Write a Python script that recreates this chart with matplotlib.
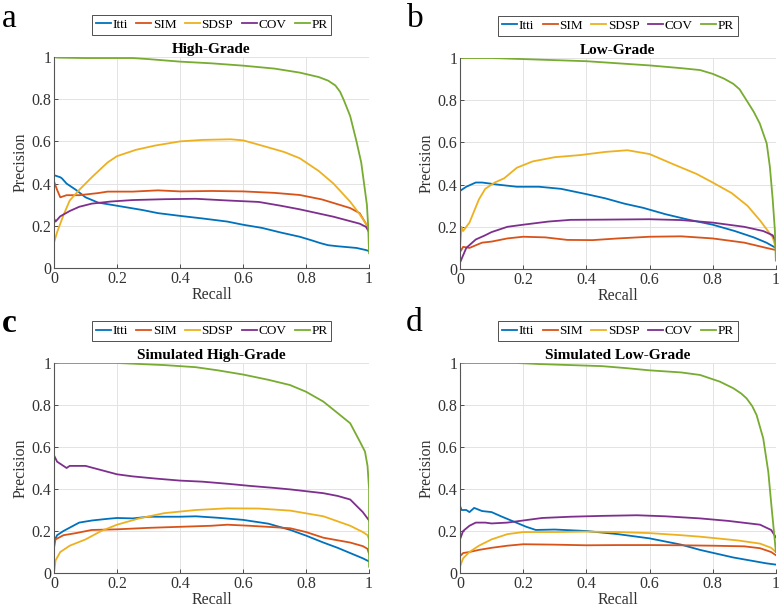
import matplotlib
matplotlib.use('Agg')
from matplotlib import pyplot as plt
import numpy as np

plt.rcParams['font.family'] = ['Liberation Serif', 'DejaVu Serif']

methods = ['Itti', 'SIM', 'SDSP', 'COV', 'PR']
colors = ['#0072BD', '#D95319', '#EDB120', '#7E2F8E', '#77AC30']
titles = ['High-Grade', 'Low-Grade', 'Simulated High-Grade', 'Simulated Low-Grade']
letters = ['a', 'b', 'c', 'd']

# (recall, precision), one list per panel
a_itti = [(0, 0.44), (0.02, 0.43), (0.025, 0.425), (0.04, 0.40), (0.07, 0.37), (0.10, 0.335), (0.14, 0.31),
          (0.18, 0.30), (0.22, 0.29), (0.28, 0.275), (0.33, 0.26), (0.40, 0.247), (0.47, 0.235), (0.55, 0.22),
          (0.60, 0.205), (0.66, 0.19), (0.72, 0.168), (0.78, 0.148), (0.82, 0.13), (0.845, 0.118),
          (0.87, 0.108), (0.90, 0.103), (0.96, 0.095), (0.99, 0.085), (1.0, 0.08)]
a_sim = [(0, 0.41), (0.01, 0.37), (0.02, 0.335), (0.04, 0.345), (0.08, 0.345), (0.14, 0.355), (0.17, 0.362),
         (0.25, 0.362), (0.33, 0.368), (0.40, 0.363), (0.50, 0.365), (0.60, 0.363), (0.70, 0.356), (0.78, 0.346),
         (0.85, 0.325), (0.94, 0.284), (0.97, 0.26), (0.99, 0.21), (1.0, 0.18)]
a_sdsp = [(0, 0.12), (0.01, 0.17), (0.03, 0.25), (0.05, 0.32), (0.08, 0.37), (0.12, 0.43), (0.17, 0.50),
          (0.20, 0.53), (0.26, 0.56), (0.32, 0.58), (0.40, 0.60), (0.47, 0.607), (0.56, 0.61), (0.60, 0.605),
          (0.66, 0.58), (0.73, 0.55), (0.78, 0.52), (0.84, 0.46), (0.887, 0.40), (0.94, 0.314), (0.97, 0.255),
          (0.99, 0.21), (1.0, 0.17)]
a_cov = [(0, 0.235), (0.005, 0.22), (0.02, 0.245), (0.05, 0.27), (0.08, 0.29), (0.12, 0.305), (0.18, 0.315),
         (0.25, 0.322), (0.35, 0.326), (0.45, 0.328), (0.55, 0.32), (0.65, 0.313), (0.72, 0.295), (0.78, 0.278),
         (0.887, 0.243), (0.97, 0.21), (0.99, 0.195), (1.0, 0.17)]
a_pr = [(0, 1.0), (0.01, 0.997), (0.1, 0.995), (0.25, 0.995), (0.30, 0.99), (0.40, 0.978), (0.50, 0.97),
        (0.60, 0.959), (0.70, 0.945), (0.78, 0.926), (0.84, 0.905), (0.87, 0.888), (0.893, 0.865),
        (0.908, 0.835), (0.92, 0.795), (0.94, 0.72), (0.96, 0.60), (0.975, 0.50), (0.984, 0.40),
        (0.993, 0.30), (0.997, 0.20), (1.0, 0.07)]

b_itti = [(0, 0.37), (0.02, 0.39), (0.05, 0.41), (0.07, 0.41), (0.12, 0.40), (0.18, 0.39), (0.25, 0.39),
          (0.32, 0.38), (0.40, 0.355), (0.46, 0.335), (0.52, 0.31), (0.58, 0.29), (0.65, 0.26), (0.72, 0.235),
          (0.80, 0.21), (0.87, 0.18), (0.93, 0.15), (0.97, 0.125), (1.0, 0.10)]
b_sim = [(0, 0.08), (0.01, 0.105), (0.03, 0.10), (0.07, 0.125), (0.10, 0.13), (0.15, 0.145), (0.20, 0.153),
         (0.27, 0.15), (0.34, 0.138), (0.42, 0.137), (0.50, 0.145), (0.60, 0.153), (0.70, 0.155), (0.80, 0.145),
         (0.90, 0.125), (0.97, 0.10), (1.0, 0.09)]
b_sdsp = [(0, 0.10), (0.005, 0.20), (0.01, 0.18), (0.03, 0.22), (0.06, 0.33), (0.08, 0.38), (0.11, 0.41),
          (0.14, 0.43), (0.18, 0.48), (0.23, 0.51), (0.30, 0.53), (0.38, 0.54), (0.46, 0.555), (0.53, 0.563),
          (0.60, 0.545), (0.67, 0.50), (0.75, 0.45), (0.80, 0.41), (0.86, 0.36), (0.91, 0.30), (0.95, 0.23),
          (0.99, 0.15), (1.0, 0.10)]
b_cov = [(0, 0.03), (0.02, 0.10), (0.05, 0.14), (0.08, 0.16), (0.10, 0.175), (0.15, 0.20), (0.20, 0.21),
         (0.28, 0.225), (0.35, 0.233), (0.45, 0.234), (0.60, 0.236), (0.70, 0.232), (0.80, 0.22), (0.90, 0.20),
         (0.96, 0.18), (0.99, 0.16), (1.0, 0.13)]
b_pr = [(0, 1.0), (0.10, 1.0), (0.20, 0.995), (0.30, 0.99), (0.40, 0.985), (0.50, 0.975), (0.60, 0.965),
        (0.70, 0.952), (0.76, 0.943), (0.80, 0.925), (0.835, 0.903), (0.865, 0.878), (0.885, 0.852),
        (0.907, 0.80), (0.93, 0.745), (0.949, 0.69), (0.971, 0.595), (0.981, 0.485), (0.99, 0.33),
        (0.997, 0.18), (1.0, 0.04)]

c_itti = [(0, 0.15), (0.01, 0.18), (0.03, 0.20), (0.08, 0.24), (0.12, 0.25), (0.17, 0.258), (0.20, 0.262),
          (0.25, 0.26), (0.30, 0.268), (0.40, 0.268), (0.45, 0.27), (0.52, 0.263), (0.60, 0.253), (0.68, 0.235),
          (0.75, 0.205), (0.80, 0.178), (0.855, 0.145), (0.90, 0.12), (0.94, 0.095), (0.98, 0.07), (1.0, 0.055)]
c_sim = [(0, 0.12), (0.005, 0.16), (0.03, 0.18), (0.07, 0.19), (0.12, 0.205), (0.20, 0.208), (0.30, 0.215),
         (0.40, 0.22), (0.50, 0.225), (0.55, 0.23), (0.62, 0.225), (0.70, 0.218), (0.75, 0.213), (0.80, 0.195),
         (0.855, 0.168), (0.94, 0.145), (0.98, 0.128), (0.995, 0.115), (1.0, 0.09)]
c_sdsp = [(0, 0.0), (0.005, 0.06), (0.02, 0.10), (0.05, 0.13), (0.10, 0.16), (0.15, 0.20), (0.20, 0.23),
          (0.27, 0.26), (0.35, 0.285), (0.45, 0.30), (0.55, 0.308), (0.65, 0.307), (0.75, 0.297), (0.855, 0.27),
          (0.94, 0.225), (0.98, 0.195), (0.995, 0.18), (1.0, 0.16)]
c_cov = [(0, 0.56), (0.01, 0.53), (0.02, 0.52), (0.04, 0.50), (0.05, 0.51), (0.08, 0.51), (0.10, 0.51),
         (0.15, 0.49), (0.20, 0.47), (0.25, 0.46), (0.32, 0.45), (0.40, 0.44), (0.47, 0.435), (0.55, 0.425),
         (0.62, 0.415), (0.70, 0.405), (0.75, 0.398), (0.855, 0.38), (0.90, 0.367), (0.94, 0.35),
         (0.98, 0.29), (1.0, 0.25)]
c_pr = [(0, 1.0), (0.20, 1.0), (0.35, 0.99), (0.45, 0.98), (0.52, 0.965), (0.60, 0.945), (0.68, 0.92),
        (0.749, 0.895), (0.80, 0.863), (0.855, 0.816), (0.908, 0.752), (0.94, 0.713), (0.971, 0.625),
        (0.987, 0.578), (0.995, 0.51), (1.0, 0.40), (1.0, 0.03)]

d_itti = [(0, 0.32), (0.005, 0.30), (0.02, 0.30), (0.03, 0.29), (0.045, 0.31), (0.07, 0.295), (0.10, 0.29),
          (0.13, 0.27), (0.17, 0.245), (0.21, 0.22), (0.24, 0.205), (0.30, 0.207), (0.40, 0.20), (0.50, 0.185),
          (0.60, 0.165), (0.70, 0.135), (0.76, 0.11), (0.865, 0.074), (0.97, 0.046), (1.0, 0.04)]
d_sim = [(0, 0.08), (0.01, 0.095), (0.03, 0.10), (0.06, 0.11), (0.10, 0.12), (0.15, 0.13), (0.20, 0.137),
         (0.30, 0.135), (0.40, 0.132), (0.50, 0.133), (0.60, 0.133), (0.70, 0.132), (0.80, 0.13), (0.90, 0.127),
         (0.95, 0.118), (0.985, 0.10), (1.0, 0.085)]
d_sdsp = [(0, 0.03), (0.01, 0.07), (0.03, 0.10), (0.06, 0.13), (0.10, 0.16), (0.15, 0.185), (0.20, 0.195),
          (0.30, 0.195), (0.40, 0.197), (0.50, 0.195), (0.60, 0.19), (0.70, 0.18), (0.76, 0.173), (0.88, 0.155),
          (0.95, 0.14), (0.985, 0.12), (1.0, 0.10)]
d_cov = [(0, 0.16), (0.01, 0.20), (0.03, 0.225), (0.05, 0.24), (0.08, 0.24), (0.10, 0.236), (0.15, 0.24),
         (0.20, 0.25), (0.26, 0.262), (0.35, 0.268), (0.45, 0.272), (0.56, 0.275), (0.65, 0.27), (0.76, 0.26),
         (0.85, 0.248), (0.95, 0.23), (0.985, 0.205), (1.0, 0.17)]
d_pr = [(0, 1.0), (0.18, 1.0), (0.25, 0.995), (0.35, 0.99), (0.45, 0.985), (0.53, 0.975), (0.60, 0.965),
        (0.70, 0.955), (0.76, 0.943), (0.823, 0.911), (0.865, 0.88), (0.89, 0.855), (0.907, 0.832),
        (0.925, 0.795), (0.939, 0.752), (0.96, 0.641), (0.976, 0.482), (0.986, 0.32), (0.995, 0.18), (1.0, 0.10)]

panels = [
    [a_itti, a_sim, a_sdsp, a_cov, a_pr],
    [b_itti, b_sim, b_sdsp, b_cov, b_pr],
    [c_itti, c_sim, c_sdsp, c_cov, c_pr],
    [d_itti, d_sim, d_sdsp, d_cov, d_pr],
]

# axes boxes in figure fractions: left, bottom, width, height
boxes = [
    (0.0692, 0.5585, 0.404, 0.3476),
    (0.5897, 0.5568, 0.405, 0.3476),
    (0.0692, 0.0560, 0.404, 0.3460),
    (0.5897, 0.0560, 0.405, 0.3460),
]
letter_pos = [(0.002, 0.995), (0.522, 0.995), (0.002, 0.493), (0.520, 0.493)]

fig = plt.figure(figsize=(7.8, 6.07), dpi=100)

for i in range(4):
    ax = fig.add_axes(boxes[i])
    for j, curve in enumerate(panels[i]):
        pts = np.array(curve)
        ax.plot(pts[:, 0], pts[:, 1], color=colors[j], lw=1.3, label=methods[j])

    ax.set_xlim(0, 1)
    ax.set_ylim(0, 1)
    ax.set_xticks([0, 0.2, 0.4, 0.6, 0.8, 1])
    ax.set_yticks([0, 0.2, 0.4, 0.6, 0.8, 1])
    ax.set_xticklabels(['0', '0.2', '0.4', '0.6', '0.8', '1'])
    ax.set_yticklabels(['0', '0.2', '0.4', '0.6', '0.8', '1'])
    ax.grid(True, color='#e3e3e3', lw=0.7)
    ax.set_axisbelow(True)
    for s in ['top', 'right']:
        ax.spines[s].set_visible(False)
    for s in ['bottom', 'left']:
        ax.spines[s].set_color('#555555')
        ax.spines[s].set_linewidth(0.8)
    ax.tick_params(direction='in', length=3, width=0.6, colors='#333333', labelsize=11.5, pad=2)
    ax.set_xlabel('Recall', fontsize=11.5, color='#333333', labelpad=0)
    ax.set_ylabel('Precision', fontsize=11.5, color='#333333', labelpad=2)
    ax.set_title(titles[i], fontsize=11, fontweight='bold', pad=3)

    leg = ax.legend(loc='center', bbox_to_anchor=(0.5, 1.152), ncol=5, fontsize=9.5,
                    handlelength=1.15, handletextpad=0.1, columnspacing=0.65,
                    borderpad=0.3, borderaxespad=0, fancybox=False, framealpha=1)
    leg.get_frame().set_edgecolor('#333333')
    leg.get_frame().set_linewidth(0.6)

    fig.text(letter_pos[i][0], letter_pos[i][1], letters[i], fontsize=24,
             ha='left', va='top', fontweight='bold' if i == 2 else 'normal')

fig.savefig('out.png', dpi=100)
